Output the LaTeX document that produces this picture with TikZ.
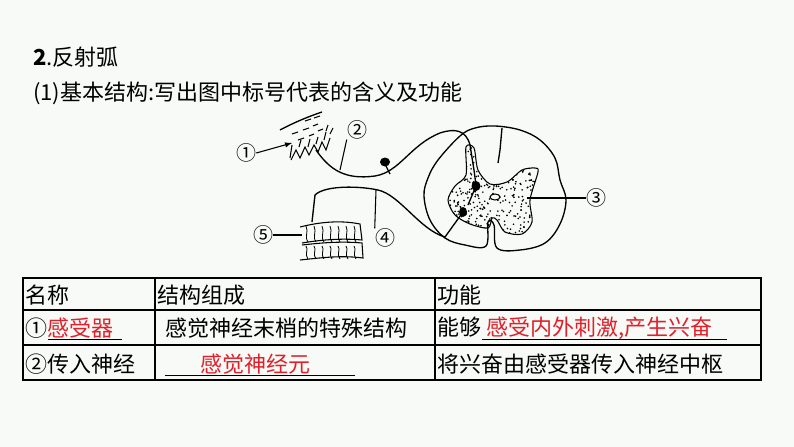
\documentclass[tikz,border=0pt]{standalone}
\usepackage{fontspec}
\setmainfont{Noto Sans CJK SC}
\definecolor{bg}{HTML}{F8FAF7}
\definecolor{ans}{HTML}{E0202A}
\begin{document}
\begin{tikzpicture}[x=0.75pt,y=-0.75pt,
  txt/.style={anchor=west,inner sep=0pt,font=\fontsize{16.5}{16.5}\selectfont},
  lbl/.style={inner sep=0pt,font=\fontsize{15}{15}\selectfont},
  nerve/.style={line width=1pt,black},
  lead/.style={line width=0.8pt}]
\fill[bg] (0,0) rectangle (794,447);
\useasboundingbox (0,0) rectangle (794,447);
\node[txt] (t1) at (33,57) {\textbf{2}.反射弧};
\node[txt] (t2) at (33,93) {(1)基本结构:写出图中标号代表的含义及功能};
% skin
\draw[nerve] (280,130) .. controls (295,122) and (310,116) .. (322,112);
\draw[line width=0.8pt] (290,158) -- (292,145) (292,134)--(298,132) (303,130)--(309,128) (313,126)--(318,124) (298,140)--(304,138) (309,136)--(314,134) (318,131)--(323,129) (305,121)--(311,119) (314,118)--(320,116);
\draw[line width=0.8pt] (291,160) -- (296,150) -- (300,158) -- (305,147) -- (309,155) -- (314,145) -- (318,152) -- (322,142) -- (326,150) -- (330,138);
\draw[line width=0.8pt] (299,147)--(301,140) (308,147)--(310,139) (316,144)--(318,137) (324,140)--(326,132) (330,134)--(333,128) (326,131)--(328,125);
% afferent fiber
\draw[nerve] (316,150) .. controls (330,170) and (345,180) .. (375,176)
  .. controls (400,172) and (410,145) .. (440,133) .. controls (455,128) and (466,130) .. (470,145)
  -- (474,170) -- (476,185);
\fill (385,162) ellipse (5 and 4.5);
\draw[nerve] (386,166) -- (390,174);
% spinal cord outline
\draw[nerve] plot[smooth cycle,tension=0.6] coordinates {(438,160) (460,136) (475,128) (495,126) (520,130) (540,140) (555,158) (560,180) (566,200) (560,224) (545,243) (520,250) (497,248) (494,225) (488,222) (486,246) (465,245) (445,238) (430,220) (424,196) (428,178)};
\draw[nerve] (502,128) -- (500,150) -- (498,163);
% gray matter
\begin{scope}
\path[clip] plot[smooth cycle,tension=0.5] coordinates {(466,147) (474,148) (478,170) (490,184) (507,182) (522,170) (535,168) (538,172) (530,200) (532,222) (522,234) (505,232) (497,220) (492,218) (488,228) (470,224) (455,215) (448,200) (455,186) (466,175)};
\pgfmathsetseed{7}
\foreach \i in {1,...,480}{
  \pgfmathsetmacro\px{445+95*rnd}\pgfmathsetmacro\py{145+92*rnd}
  \fill (\px,\py) circle (0.9);}
\end{scope}
\draw[line width=0.8pt] plot[smooth cycle,tension=0.5] coordinates {(466,147) (474,148) (478,170) (490,184) (507,182) (522,170) (535,168) (538,172) (530,200) (532,222) (522,234) (505,232) (497,220) (492,218) (488,228) (470,224) (455,215) (448,200) (455,186) (466,175)};
\fill[bg] (495,197) ellipse (5 and 3);
\draw[line width=0.8pt] (495,197) ellipse (5 and 3);
\fill (476,186) ellipse (4.5 and 5);
\draw[nerve] (476,186) -- (468,205);
\fill (463,212) ellipse (4 and 5);
% efferent fiber
\draw[nerve] (463,212) -- (445,237) .. controls (420,230) and (400,195) .. (378,190)
  .. controls (360,186) and (325,185) .. (315,195) -- (312,222);
% muscle
\draw[line width=0.8pt] (300,227) .. controls (320,222) and (340,220) .. (360,224) -- (362,240) .. controls (340,238) and (320,240) .. (302,243)
  (302,245) .. controls (320,243) and (340,241) .. (362,243) -- (363,258) .. controls (340,255) and (320,258) .. (300,260);
\foreach \x in {306,314,322,330,338,346,354}{
  \draw[line width=0.6pt] (\x,226) .. controls (\x+3,232) and (\x-2,236) .. (\x+2,242);
  \draw[line width=0.6pt] (\x,246) .. controls (\x+3,250) and (\x-2,254) .. (\x+2,259);}
% labels
\node[lbl] (n1) at (246,153) {①};
\node[lbl] (n2) at (357,130) {②};
\node[lbl] (n3) at (596,198) {③};
\node[lbl] (n4) at (385,238) {④};
\node[lbl] (n5) at (263,235) {⑤};
\coordinate (p1) at (292,143);
\coordinate (p2) at (340,170);
\coordinate (p3) at (527,198);
\coordinate (p4) at (376,190);
\coordinate (p5) at (302,235);
\draw[lead,-latex] (n1.east) -- (p1);
\draw[lead] (n2.south west) -- (p2);
\draw[lead] (n3.west) -- (p3);
\draw[lead] (n4.north west) -- (p4);
\draw[lead] (n5.east) -- (p5);
% table
\draw[line width=0.8pt] (23,278) rectangle (761,380);
\draw[line width=0.8pt] (23,310) -- (761,310) (23,345) -- (761,345) (155,278) -- (155,380) (435,278) -- (435,380);
\node[txt] (h1) at (25,295) {名称};
\node[txt] (h2) at (157,295) {结构组成};
\node[txt] (h3) at (437,295) {功能};
\node[txt] (a1) at (25,328) {①\textcolor{ans}{感受器}};
\draw[line width=0.7pt] (48,339) -- (122,339);
\node[txt] (b1) at (165,328) {感觉神经末梢的特殊结构};
\node[txt] (c1) at (437,328) {能够\ \textcolor{ans}{感受内外刺激,产生兴奋}};
\draw[line width=0.7pt] (482,339) -- (727,339);
\node[txt] (a2) at (25,364) {②传入神经};
\node[txt] (b2) at (200,364) {\textcolor{ans}{感觉神经元}};
\draw[line width=0.7pt] (165,375) -- (355,375);
\node[txt] (c2) at (437,364) {将兴奋由感受器传入神经中枢};
\end{tikzpicture}
\end{document}
